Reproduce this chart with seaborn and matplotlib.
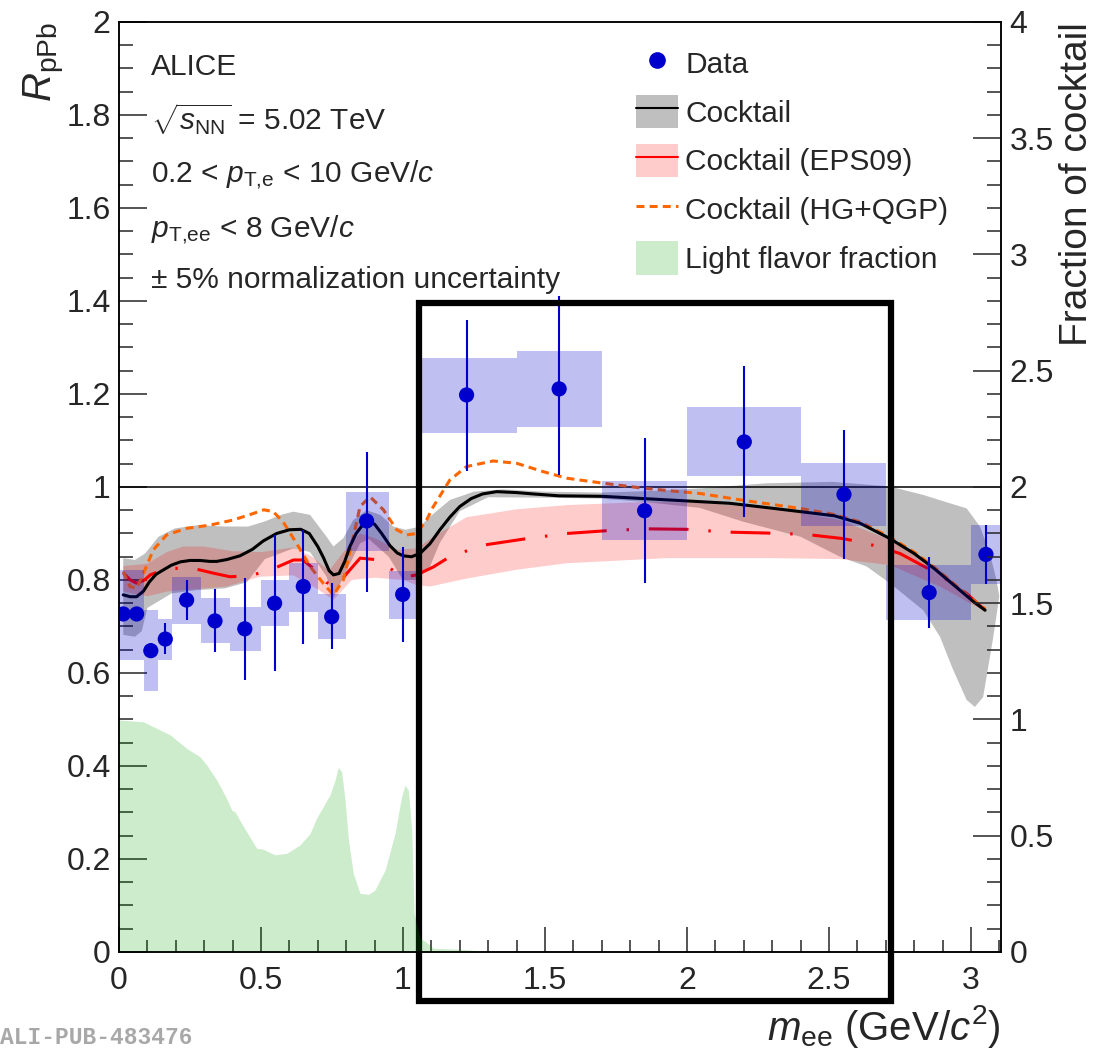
import numpy as np
import matplotlib
matplotlib.use("Agg")
import matplotlib.pyplot as plt
import seaborn as sns
from matplotlib.patches import Patch, Rectangle
from matplotlib.lines import Line2D
from matplotlib.legend_handler import HandlerTuple
from matplotlib.ticker import MultipleLocator, FuncFormatter

# ---------------- measured R_pPb ----------------
mass = [0.015, 0.062, 0.112, 0.163, 0.238, 0.338, 0.443, 0.548, 0.649, 0.749,
        0.872, 0.999, 1.224, 1.550, 1.851, 2.202, 2.553, 2.853, 3.053]
rppb = [0.727, 0.727, 0.648, 0.673, 0.757, 0.712, 0.695, 0.750, 0.786, 0.721,
        0.927, 0.769, 1.198, 1.211, 0.949, 1.097, 0.984, 0.773, 0.855]
stat_lo = [0.712, 0.712, 0.632, 0.640, 0.714, 0.646, 0.586, 0.604, 0.662, 0.651,
           0.775, 0.667, 1.034, 1.026, 0.793, 0.936, 0.845, 0.696, 0.791]
stat_hi = [0.742, 0.742, 0.665, 0.707, 0.800, 0.780, 0.804, 0.897, 0.908, 0.793,
           1.075, 0.870, 1.359, 1.410, 1.105, 1.260, 1.123, 0.850, 0.918]
sys_lo = [0.628, 0.628, 0.561, 0.628, 0.705, 0.665, 0.648, 0.700, 0.732, 0.673,
          0.863, 0.716, 1.117, 1.129, 0.885, 1.024, 0.917, 0.715, 0.791]
sys_hi = [0.821, 0.821, 0.735, 0.717, 0.806, 0.761, 0.742, 0.800, 0.837, 0.770,
          0.989, 0.819, 1.277, 1.292, 1.012, 1.173, 1.051, 0.832, 0.918]
bin_lo = [0.00, 0.039, 0.089, 0.139, 0.188, 0.289, 0.39, 0.50, 0.60, 0.70,
          0.80, 0.95, 1.05, 1.40, 1.70, 2.00, 2.40, 2.70, 3.00]
bin_hi = [0.039, 0.089, 0.139, 0.188, 0.289, 0.39, 0.50, 0.60, 0.70, 0.80,
          0.95, 1.05, 1.40, 1.70, 2.00, 2.40, 2.70, 3.00, 3.11]

# ---------------- cocktail (vacuum) ----------------
cock_m = [0.015, 0.040, 0.062, 0.086, 0.107, 0.130, 0.157, 0.185, 0.216, 0.250,
          0.286, 0.320, 0.344, 0.380, 0.426, 0.470, 0.508, 0.555, 0.600, 0.640,
          0.670, 0.700, 0.720, 0.740, 0.755, 0.775, 0.795, 0.813, 0.835, 0.855,
          0.878, 0.900, 0.925, 0.954, 0.980, 1.001, 1.030, 1.060, 1.095, 1.130,
          1.165, 1.200, 1.240, 1.280, 1.330, 1.400, 1.460, 1.550, 1.700, 1.850,
          2.000, 2.150, 2.250, 2.400, 2.520, 2.610, 2.715, 2.800, 2.870, 2.940,
          3.010, 3.050]
cock_r = [0.768, 0.764, 0.764, 0.776, 0.796, 0.812, 0.822, 0.832, 0.839, 0.842,
          0.842, 0.840, 0.840, 0.844, 0.852, 0.866, 0.884, 0.900, 0.908, 0.909,
          0.900, 0.872, 0.848, 0.820, 0.811, 0.814, 0.840, 0.872, 0.900, 0.916,
          0.925, 0.920, 0.900, 0.874, 0.858, 0.852, 0.850, 0.857, 0.878, 0.908,
          0.935, 0.958, 0.975, 0.985, 0.990, 0.988, 0.985, 0.981, 0.980, 0.975,
          0.970, 0.965, 0.958, 0.947, 0.938, 0.922, 0.889, 0.857, 0.825, 0.789,
          0.753, 0.735]
cock_up_m = [0.015, 0.056, 0.092, 0.139, 0.197, 0.279, 0.373, 0.455, 0.514, 0.570,
             0.614, 0.673, 0.731, 0.755, 0.790, 0.825, 0.872, 0.920, 0.966, 1.010,
             1.060, 1.095, 1.165, 1.250, 1.350, 1.500, 1.700, 1.900, 2.046, 2.281,
             2.515, 2.715, 2.832, 2.926, 2.985, 3.032, 3.067, 3.090, 3.100]
cock_up_r = [0.847, 0.843, 0.857, 0.893, 0.911, 0.918, 0.915, 0.915, 0.926, 0.940,
             0.947, 0.940, 0.893, 0.872, 0.890, 0.929, 0.950, 0.940, 0.915, 0.908,
             0.915, 0.936, 0.972, 0.990, 0.995, 0.990, 0.988, 0.992, 0.997, 1.008,
             1.011, 1.001, 0.983, 0.965, 0.954, 0.915, 0.857, 0.800, 0.765]
cock_dn_m = [0.015, 0.056, 0.080, 0.100, 0.185, 0.270, 0.373, 0.450, 0.514, 0.614,
             0.673, 0.731, 0.755, 0.803, 0.849, 0.880, 0.950, 1.000, 1.048, 1.095,
             1.130, 1.200, 1.300, 1.500, 1.700, 1.850, 2.046, 2.200, 2.400, 2.539,
             2.633, 2.715, 2.832, 2.891, 2.938, 2.985, 3.014, 3.043, 3.079, 3.100]
cock_dn_r = [0.682, 0.678, 0.690, 0.740, 0.771, 0.778, 0.782, 0.795, 0.845, 0.868,
             0.860, 0.807, 0.762, 0.822, 0.879, 0.888, 0.850, 0.800, 0.800, 0.829,
             0.880, 0.948, 0.978, 0.977, 0.975, 0.968, 0.955, 0.925, 0.893, 0.850,
             0.829, 0.793, 0.735, 0.678, 0.606, 0.542, 0.527, 0.548, 0.678, 0.765]

# ---------------- cocktail with EPS09 shadowing ----------------
eps_m = [0.015, 0.040, 0.062, 0.090, 0.110, 0.168, 0.262, 0.330, 0.391, 0.461,
         0.539, 0.614, 0.648, 0.684, 0.730, 0.766, 0.802, 0.849, 0.919, 0.978,
         1.013, 1.048, 1.107, 1.165, 1.283, 1.436, 1.576, 1.717, 1.858, 1.999,
         2.140, 2.280, 2.420, 2.550, 2.632, 2.750, 2.891, 2.985, 3.050]
eps_r = [0.815, 0.800, 0.793, 0.800, 0.811, 0.825, 0.825, 0.815, 0.807, 0.809,
         0.823, 0.843, 0.843, 0.825, 0.795, 0.786, 0.814, 0.847, 0.843, 0.814,
         0.807, 0.811, 0.828, 0.850, 0.875, 0.889, 0.900, 0.906, 0.910, 0.909,
         0.903, 0.901, 0.898, 0.889, 0.879, 0.857, 0.811, 0.771, 0.735]
eps_up_m = [0.015, 0.100, 0.168, 0.226, 0.300, 0.400, 0.500, 0.614, 0.680, 0.740,
            0.790, 0.849, 0.900, 0.980, 1.048, 1.107, 1.224, 1.400, 1.576, 1.858,
            2.046, 2.300, 2.539, 2.715, 2.891, 3.050]
eps_up_r = [0.830, 0.835, 0.860, 0.872, 0.872, 0.862, 0.860, 0.870, 0.850, 0.820,
            0.860, 0.900, 0.890, 0.865, 0.868, 0.893, 0.935, 0.952, 0.961, 0.968,
            0.966, 0.955, 0.929, 0.886, 0.821, 0.740]
eps_dn_m = [0.015, 0.100, 0.168, 0.379, 0.496, 0.614, 0.700, 0.755, 0.820, 0.900,
            1.000, 1.048, 1.095, 1.224, 1.400, 1.576, 1.928, 2.300, 2.539, 2.715,
            2.891, 3.050]
eps_dn_r = [0.775, 0.765, 0.775, 0.786, 0.807, 0.810, 0.780, 0.757, 0.800, 0.805,
            0.800, 0.789, 0.786, 0.803, 0.822, 0.836, 0.847, 0.847, 0.845, 0.832,
            0.786, 0.732]

# ---------------- cocktail with thermal HG+QGP radiation ----------------
hg_m = [0.015, 0.039, 0.062, 0.086, 0.121, 0.168, 0.238, 0.320, 0.402, 0.473,
        0.510, 0.543, 0.578, 0.625, 0.673, 0.719, 0.755, 0.790, 0.825, 0.849,
        0.884, 0.931, 0.978, 1.013, 1.048, 1.083, 1.107, 1.165, 1.224, 1.318,
        1.400, 1.494, 1.576, 1.694, 1.851, 2.046, 2.202, 2.398, 2.510, 2.610,
        2.715, 2.800, 2.870, 2.940, 3.010, 3.050]
hg_r = [0.818, 0.786, 0.782, 0.814, 0.865, 0.897, 0.911, 0.918, 0.929, 0.943,
        0.951, 0.947, 0.925, 0.879, 0.829, 0.793, 0.768, 0.800, 0.893, 0.958,
        0.979, 0.951, 0.908, 0.897, 0.900, 0.929, 0.958, 1.015, 1.044, 1.056,
        1.051, 1.033, 1.019, 1.009, 0.997, 0.986, 0.971, 0.954, 0.942, 0.925,
        0.892, 0.860, 0.828, 0.792, 0.756, 0.738]

# ---------------- light-flavour fraction of the cocktail ----------------
lf_m = [0.000, 0.086, 0.133, 0.180, 0.238, 0.285, 0.309, 0.344, 0.379, 0.397,
        0.408, 0.438, 0.485, 0.508, 0.549, 0.590, 0.637, 0.673, 0.696, 0.743,
        0.761, 0.772, 0.784, 0.796, 0.808, 0.825, 0.849, 0.878, 0.901, 0.937,
        0.972, 0.995, 1.007, 1.019, 1.031, 1.039, 1.060, 1.080, 1.107, 1.200,
        1.260, 1.320]
lf_frac = [0.998, 0.990, 0.962, 0.934, 0.876, 0.840, 0.804, 0.740, 0.660, 0.610,
           0.604, 0.540, 0.446, 0.442, 0.418, 0.424, 0.460, 0.510, 0.576, 0.676,
           0.740, 0.794, 0.776, 0.654, 0.482, 0.338, 0.252, 0.248, 0.266, 0.352,
           0.510, 0.668, 0.718, 0.696, 0.524, 0.166, 0.060, 0.044, 0.016, 0.012,
           0.006, 0.000]

# highlighted mass window (intermediate-mass region)
window_m = [1.058, 2.718]
window_r = [-0.105, 1.396]

info_lines = ["ALICE",
              r"$\sqrt{s_{\mathrm{NN}}}$ = 5.02 TeV",
              r"0.2 < $p_{\mathrm{T{,}e}}$ < 10 GeV/$c$",
              r"$p_{\mathrm{T{,}ee}}$ < 8 GeV/$c$",
              "\u00b1 5% normalization uncertainty"]
legend_labels = ["Data", "Cocktail", "Cocktail (EPS09)",
                 "Cocktail (HG+QGP)", "Light flavor fraction"]

# ---------------- style ----------------
sns.set_theme(style="ticks")
plt.rcParams["font.family"] = ["Liberation Sans", "DejaVu Sans"]
plt.rcParams["mathtext.fontset"] = "custom"
plt.rcParams["mathtext.rm"] = "Liberation Sans"
plt.rcParams["mathtext.it"] = "Liberation Sans:italic"
plt.rcParams["mathtext.bf"] = "Liberation Sans:bold"
plt.rcParams["axes.linewidth"] = 1.1

BLUE = "#0000CC"
fig = plt.figure(figsize=(10.99, 10.51), dpi=100)
ax = fig.add_axes([0.10828, 0.09420, 0.80255, 0.88487])
ax.set_facecolor("white")

# uncertainty bands
ax.fill(cock_up_m + cock_dn_m[::-1], cock_up_r + cock_dn_r[::-1],
        color="black", alpha=0.25, lw=0, zorder=1)
ax.fill(eps_up_m + eps_dn_m[::-1], eps_up_r + eps_dn_r[::-1],
        color="red", alpha=0.2, lw=0, zorder=1)

ax.axhline(1.0, color="black", lw=1.1, zorder=2)

# model curves
sns.lineplot(x=eps_m, y=eps_r, ax=ax, color="red", lw=2.2, sort=False, zorder=3)
ln = ax.lines[-1]
ln.set_linestyle((0, (13, 6.5, 0.8, 6.5)))
ln.set_dash_capstyle("butt")
sns.lineplot(x=hg_m, y=hg_r, ax=ax, color="#FF6600", lw=2.2, sort=False, zorder=3)
ln = ax.lines[-1]
ln.set_linestyle((0, (2.6, 1.7)))
ln.set_dash_capstyle("butt")
sns.lineplot(x=cock_m, y=cock_r, ax=ax, color="black", lw=2.2, sort=False, zorder=3)

# systematic boxes
m = np.array(mass)
r = np.array(rppb)
ax.bar(bin_lo, np.array(sys_hi) - np.array(sys_lo), width=np.array(bin_hi) - np.array(bin_lo),
       bottom=sys_lo, align="edge", color=BLUE, alpha=0.25, lw=0, zorder=4)
# statistical errors and points
ax.errorbar(m, r, yerr=[r - np.array(stat_lo), np.array(stat_hi) - r], fmt="none",
            ecolor=BLUE, elinewidth=1.5, capsize=0, zorder=5)
sns.scatterplot(x=mass, y=rppb, ax=ax, color=BLUE, s=120, edgecolor="none",
                zorder=6, legend=False)

ax.set_xlim(0, 3.106)
ax.set_ylim(0, 2)

# fraction axis
ax2 = ax.twinx()
ax2.fill_between(lf_m, lf_frac, 0, color="#00A000", alpha=0.2, lw=0, zorder=1)
ax2.set_ylim(0, 4)

# highlighted window
ax.add_patch(Rectangle((window_m[0], window_r[0]), window_m[1] - window_m[0],
                       window_r[1] - window_r[0], fill=False, ec="black", lw=4.5,
                       clip_on=False, zorder=10))

# ticks
fmt = FuncFormatter(lambda v, p: f"{v:g}")
ax.xaxis.set_major_locator(MultipleLocator(0.5))
ax.xaxis.set_minor_locator(MultipleLocator(0.1))
ax.yaxis.set_major_locator(MultipleLocator(0.2))
ax.yaxis.set_minor_locator(MultipleLocator(0.05))
ax2.yaxis.set_major_locator(MultipleLocator(0.5))
ax2.yaxis.set_minor_locator(MultipleLocator(0.1))
for a in (ax, ax2):
    a.xaxis.set_major_formatter(fmt)
    a.yaxis.set_major_formatter(fmt)
ax.tick_params(axis="x", which="major", direction="in", length=18, width=1.1,
               labelsize=23, pad=10, top=False)
ax.tick_params(axis="x", which="minor", direction="in", length=9, width=1.1, top=False)
ax.tick_params(axis="y", which="major", direction="in", length=20, width=1.1,
               labelsize=23, pad=6, right=False)
ax.tick_params(axis="y", which="minor", direction="in", length=10, width=1.1, right=False)
ax2.tick_params(axis="y", which="major", direction="in", length=20, width=1.1,
                labelsize=23, pad=6)
ax2.tick_params(axis="y", which="minor", direction="in", length=10, width=1.1)
for a in (ax, ax2):
    for s in a.spines.values():
        s.set_color("black")
        s.set_linewidth(1.1)

ax.set_xlabel(r"$m_{\mathrm{ee}}$ (GeV/$c^{2}$)", loc="right", fontsize=29, labelpad=5)
ax.set_ylabel(r"$R_{\mathrm{pPb}}$", loc="top", fontsize=29, labelpad=0)
ax2.set_ylabel("Fraction of cocktail", loc="top", fontsize=28, labelpad=4)

# info text
ys = [0.943, 0.884, 0.828, 0.769, 0.714]
for y, t in zip(ys, info_lines):
    ax.text(0.036, y, t, transform=ax.transAxes, fontsize=21.5, va="baseline",
            ha="left", zorder=11)

# legend
handles = [
    Line2D([], [], marker="o", color=BLUE, ls="none", markersize=11),
    (Patch(facecolor="black", alpha=0.25, lw=0), Line2D([], [], color="black", lw=1.5)),
    (Patch(facecolor="red", alpha=0.2, lw=0), Line2D([], [], color="red", lw=1.5)),
    Line2D([], [], color="#FF6600", lw=2.2, ls=(0, (2.6, 1.7))),
    Patch(facecolor="#00A000", alpha=0.2, lw=0),
]
ax2.legend(handles, legend_labels, loc="upper left", bbox_to_anchor=(0.586, 0.974),
           frameon=False, fontsize=21.5, handlelength=1.4, handleheight=1.35,
           labelspacing=0.51, handletextpad=0.25, borderpad=0, borderaxespad=0,
           handler_map={tuple: HandlerTuple(ndivide=1, pad=0)})

fig.text(0.0, 0.007, "ALI-PUB-483476", family=["Liberation Mono", "DejaVu Sans Mono"],
         weight="bold", color="#A8A8A8", fontsize=16.5, va="baseline", ha="left")

fig.savefig("out.png", dpi=100)
